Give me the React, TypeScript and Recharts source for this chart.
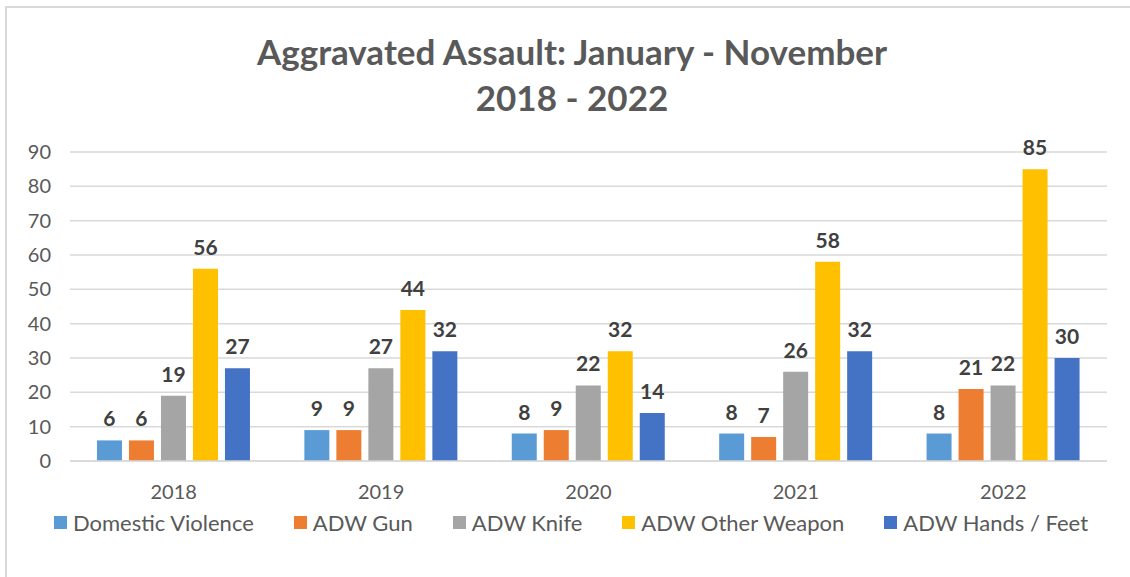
import { Bar, BarChart, CartesianGrid, LabelList, Legend, XAxis, YAxis } from "recharts";

const years = ["2018", "2019", "2020", "2021", "2022"];
const domesticViolence = [6, 9, 8, 8, 8];
const adwGun = [6, 9, 9, 7, 21];
const adwKnife = [19, 27, 22, 26, 22];
const adwOtherWeapon = [56, 44, 32, 58, 85];
const adwHandsFeet = [27, 32, 14, 32, 30];
const yTicks = [0, 10, 20, 30, 40, 50, 60, 70, 80, 90];

const series = [
  { key: "dv", name: "Domestic Violence", color: "#5B9BD5", values: domesticViolence },
  { key: "gun", name: "ADW Gun", color: "#ED7D31", values: adwGun },
  { key: "knife", name: "ADW Knife", color: "#A5A5A5", values: adwKnife },
  { key: "other", name: "ADW Other Weapon", color: "#FFC000", values: adwOtherWeapon },
  { key: "hands", name: "ADW Hands / Feet", color: "#4472C4", values: adwHandsFeet },
];

const data = years.map((year, i) => {
  const row: Record<string, string | number> = { year };
  series.forEach((s) => (row[s.key] = s.values[i]));
  return row;
});

const FONT = "Lato, 'Open Sans', sans-serif";

// legend keeps the series order (recharts sorts its payload by name otherwise)
function LegendRow() {
  return (
    <div style={{ display: "flex", justifyContent: "center", gap: 40, fontSize: 22, fontFamily: FONT, color: "#595959" }}>
      {series.map((s) => (
        <div key={s.key} style={{ display: "flex", alignItems: "center" }}>
          <span style={{ width: 13, height: 13, background: s.color, marginRight: 6, display: "inline-block" }} />
          <span>{s.name}</span>
        </div>
      ))}
    </div>
  );
}

export default function App() {
  return (
    <div style={{ position: "absolute", left: 0, top: 0, width: 1130, height: 577, background: "#fff", fontFamily: FONT }}>
      <div
        style={{
          position: "absolute",
          left: 5,
          top: 6,
          right: 0,
          bottom: 0,
          borderTop: "2px solid #d9d9d9",
          borderLeft: "2px solid #d9d9d9",
        }}
      />
      <div
        style={{
          position: "absolute",
          left: 14,
          right: 0,
          top: 28,
          textAlign: "center",
          color: "#595959",
          fontWeight: 700,
          fontSize: 35,
          lineHeight: "46px",
        }}
      >
        Aggravated Assault: January - November
        <br />
        2018 - 2022
      </div>
      <div style={{ position: "absolute", left: 0, top: 0 }}>
        <BarChart
          width={1130}
          height={577}
          data={data}
          margin={{ top: 152, right: 23, left: 0, bottom: 86 }}
          barCategoryGap="13%"
          barGap={7}
        >
          <CartesianGrid vertical={false} stroke="#d9d9d9" strokeWidth={1.5} />
          <XAxis
            dataKey="year"
            height={30}
            axisLine={{ stroke: "#d9d9d9", strokeWidth: 1.5 }}
            tickLine={false}
            tickMargin={18}
            tick={{ fill: "#595959", fontSize: 20, fontFamily: FONT }}
          />
          <YAxis
            width={70}
            domain={[0, 90]}
            ticks={yTicks}
            axisLine={false}
            tickLine={false}
            tickMargin={13}
            tick={{ fill: "#595959", fontSize: 20, fontFamily: FONT }}
          />
          <Legend
            layout="horizontal"
            verticalAlign="middle"
            align="center"
            wrapperStyle={{ top: 509, left: 6, width: 1130 }}
            content={() => <LegendRow />}
          />
          {series.map((s) => (
            <Bar key={s.key} dataKey={s.key} name={s.name} fill={s.color} isAnimationActive={false}>
              <LabelList
                dataKey={s.key}
                position="top"
                offset={14}
                fill="#404040"
                fontSize={21}
                fontWeight={700}
                fontFamily={FONT}
              />
            </Bar>
          ))}
        </BarChart>
      </div>
    </div>
  );
}
